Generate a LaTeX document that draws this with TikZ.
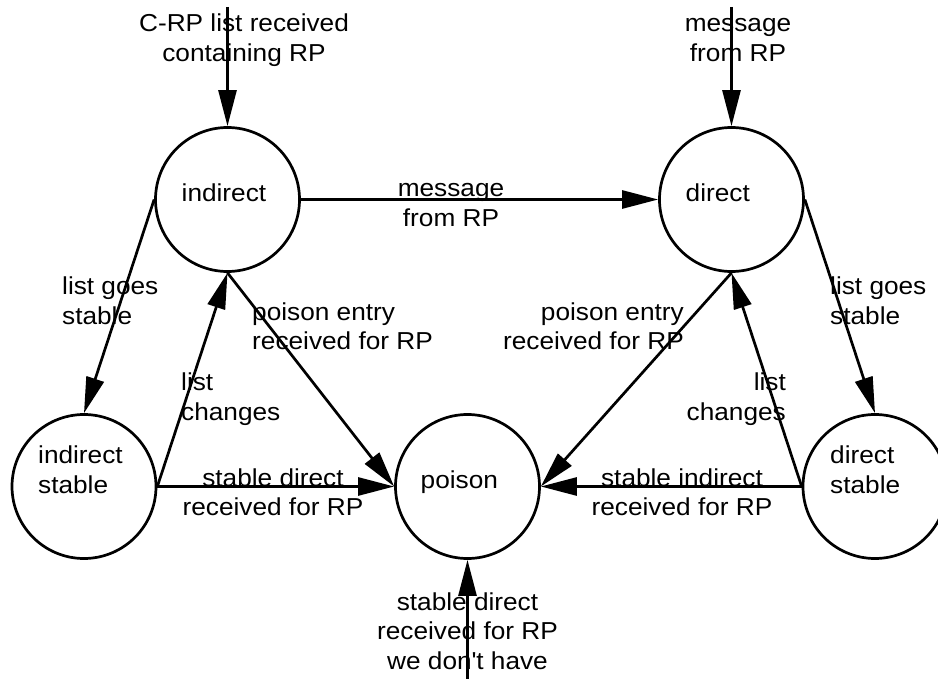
\documentclass[tikz,border=0pt]{standalone}
\usepackage{fontspec}
\setmainfont{Liberation Sans}[FakeStretch=1.07]
\usetikzlibrary{arrows.meta}
% multi-line labels whose reference point is the baseline of the first line
\newcommand{\lblc}[1]{\begin{tabular}[t]{@{}c@{}}#1\end{tabular}}
\newcommand{\lbll}[1]{\begin{tabular}[t]{@{}l@{}}#1\end{tabular}}
\newcommand{\lblr}[1]{\begin{tabular}[t]{@{}r@{}}#1\end{tabular}}

\begin{document}
\begin{tikzpicture}[x=1pt,y=-1pt,
  state/.style={circle,draw,line width=2.7pt,minimum size=144pt,inner sep=0pt},
  edge/.style={line width=2.7pt,-{Triangle[length=36pt,width=18pt]}},
  txt/.style={inner sep=0pt,font=\fontsize{24.5}{29.5}\selectfont},
]
\useasboundingbox (0,0) rectangle (938,679);
\clip (0,0) rectangle (938,679);

% states
\node[state] (ind)  at (227.5,199.5) {};
\node[state] (dir)  at (731.5,199.5) {};
\node[state] (inds) at (84,486.5) {};
\node[state] (pois) at (467.5,486.5) {};
\node[state] (dirs) at (875,486.5) {};

% state names, set flush left inside the circles
\node[txt,anchor=base west] (indT)  at ([xshift=-46pt,yshift=-2pt]ind.center)  {indirect};
\node[txt,anchor=base west] (dirT)  at ([xshift=-46pt,yshift=-2pt]dir.center)  {direct};
\node[txt,anchor=base west] (poisT) at ([xshift=-47pt,yshift=-2pt]pois.center) {poison};
\node[txt,anchor=base west] (indsT) at ([xshift=-46pt,yshift=23pt]inds.center) {\lbll{indirect\\stable}};
\node[txt,anchor=base west] (dirsT) at ([xshift=-45pt,yshift=23pt]dirs.center) {\lbll{direct\\stable}};

% entry points
\coordinate (inIn)  at (227.5,7);
\coordinate (inDir) at (731.5,7);
\coordinate (inPois) at (467.5,679);

% transitions
\draw[edge] (inIn)  -- (ind.north);
\draw[edge] (inDir) -- (dir.north);
\draw[edge] (inPois) -- (pois.south);
\draw[edge] (ind.east)  -- (dir.west);
\draw[edge] (ind.west)  -- (inds.north);
\draw[edge] (inds.east) -- (ind.south);
\draw[edge] (ind.south) -- (pois.west);
\draw[edge] (inds.east) -- (pois.west);
\draw[edge] (dir.east)  -- (dirs.north);
\draw[edge] (dirs.west) -- (dir.south);
\draw[edge] (dir.south) -- (pois.east);
\draw[edge] (dirs.west) -- (pois.east);

% transition labels
\node[txt,anchor=base] (l1) at (244,31.7) {\lblc{C-RP list received\\containing RP}};
\node[txt,anchor=base] (l2) at (738,32) {\lblc{message\\from RP}};
\node[txt,anchor=base] (l3) at (451,197) {\lblc{message\\from RP}};
\node[txt,anchor=base west] (l4) at (62,295) {\lbll{list goes\\stable}};
\node[txt,anchor=base west] (l5) at (830,295) {\lbll{list goes\\stable}};
\node[txt,anchor=base west] (l6) at (181,391) {\lbll{list\\changes}};
\node[txt,anchor=base east] (l7) at (786,391) {\lblr{list\\changes}};
\node[txt,anchor=base west] (l8) at (252,320) {\lbll{poison entry\\received for RP}};
\node[txt,anchor=base east] (l9) at (684,320) {\lblr{poison entry\\received for RP}};
\node[txt,anchor=base] (l10) at (273,486) {\lblc{stable direct\\received for RP}};
\node[txt,anchor=base] (l11) at (682,486) {\lblc{stable indirect\\received for RP}};
\node[txt,anchor=base] (l12) at (467.5,610) {\lblc{stable direct\\received for RP\\we don\textquotesingle t have}};
\end{tikzpicture}
\end{document}
